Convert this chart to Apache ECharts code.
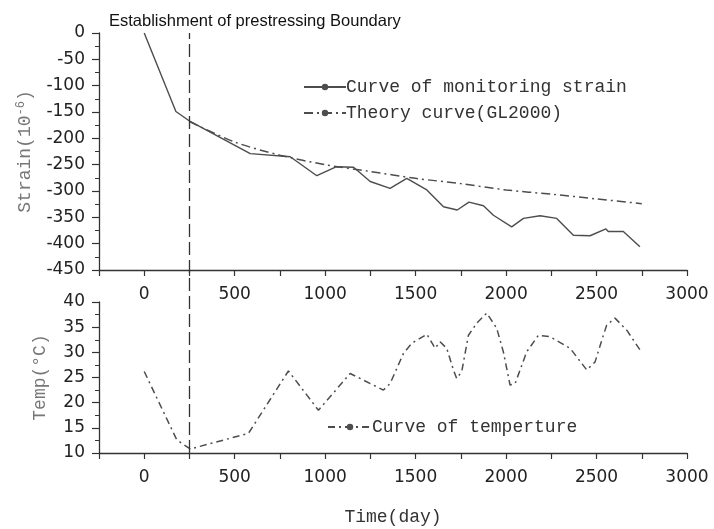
<!DOCTYPE html>
<html>
<head>
<meta charset="utf-8">
<script src="https://cdn.jsdelivr.net/npm/echarts@6/dist/echarts.min.js"></script>
<style>html,body{margin:0;padding:0;background:#fff}#c{width:714px;height:529px}</style>
</head>
<body>
<div id="c"></div>
<script>
// ---- data ----
const strainDays = [0, 175, 254, 586, 807, 954, 1060, 1157, 1249, 1359, 1451, 1562, 1654, 1730, 1795, 1875, 1930, 2031, 2096, 2188, 2280, 2372, 2464, 2552, 2565, 2648, 2740];
const strainVals = [0, -149, -168, -229, -235, -271, -254, -255, -282, -295, -276, -298, -330, -336, -321, -328, -346, -368, -352, -347, -352, -384, -385, -372, -377, -377, -406];
const theoryDays = [250, 500, 750, 1000, 1250, 1500, 1750, 2000, 2250, 2500, 2750];
const theoryVals = [-168, -207, -232, -250, -263, -276, -286, -298, -306, -315, -324];
const tempDays = [0, 180, 254, 576, 797, 963, 1138, 1322, 1359, 1433, 1479, 1562, 1608, 1635, 1672, 1709, 1727, 1755, 1792, 1838, 1893, 1948, 1985, 2022, 2050, 2114, 2179, 2243, 2354, 2446, 2492, 2529, 2556, 2602, 2667, 2740];
const tempVals = [26.2, 12.6, 10.8, 13.9, 26.3, 18.5, 25.8, 22.5, 23.8, 29.8, 31.8, 33.6, 30.8, 32.1, 30.8, 26.5, 24.8, 26.2, 33.4, 35.8, 37.8, 34.8, 30.1, 23.5, 23.8, 30.1, 33.4, 33.1, 30.8, 26.5, 28.1, 32.4, 35.4, 36.8, 34.4, 30.5];
const boundaryDay = 250;
const seriesNames = ['Curve of monitoring strain', 'Theory curve(GL2000)', 'Curve of temperture'];
const titleText = 'Establishment of prestressing Boundary';

const zip = (a, b) => a.map((x, i) => [x, b[i]]);
const tickFont = {fontFamily: 'DejaVu Sans', fontSize: 17, color: '#222'};
const monoFont = 'Liberation Mono';
const lineColor = '#4d4d4d';
const axisLine = {show: true, onZero: false, lineStyle: {color: '#333', width: 1.3}};

function xAxisCfg(gridIndex) {
  return {
    type: 'value', gridIndex, min: -250, max: 3000, interval: 250,
    axisLine, splitLine: {show: false},
    axisTick: {show: true, inside: false, length: 6, lineStyle: {color: '#333', width: 1.2}},
    axisLabel: Object.assign({margin: 16, formatter: v => (v >= 0 && v % 500 === 0) ? String(v) : ''}, tickFont)
  };
}

const chart = echarts.init(document.getElementById('c'), null, {renderer: 'canvas'});
chart.setOption({
  animation: false,
  backgroundColor: '#fff',
  title: {
    text: titleText, left: 104, top: 8,
    textStyle: {fontFamily: 'Liberation Sans', fontSize: 16.5, fontWeight: 'normal', color: '#111'}
  },
  grid: [
    {left: 99, right: 27, top: 33, height: 237},
    {left: 99, right: 27, top: 302, height: 151},
    {left: 99, right: 27, top: 33, height: 420}
  ],
  xAxis: [
    xAxisCfg(0),
    Object.assign(xAxisCfg(1), {
      name: 'Time(day)', nameLocation: 'middle', nameGap: 55,
      nameTextStyle: {fontFamily: monoFont, fontSize: 18, color: '#333'}
    }),
    {type: 'value', gridIndex: 2, min: -250, max: 3000, show: false}
  ],
  yAxis: [
    {
      type: 'value', gridIndex: 0, min: -450, max: 0, interval: 50,
      axisLine, splitLine: {show: false},
      axisTick: {show: true, length: 7, lineStyle: {color: '#333', width: 1.2}},
      minorTick: {show: true, splitNumber: 2, length: 4, lineStyle: {color: '#333'}},
      axisLabel: Object.assign({margin: 14}, tickFont),
      name: '{a|Strain(10}{s|-6}{a|)}', nameLocation: 'middle', nameGap: 64, nameRotate: 90,
      nameTextStyle: {
        rich: {
          a: {fontFamily: monoFont, fontSize: 18, color: '#777'},
          s: {fontFamily: monoFont, fontSize: 12, color: '#777', verticalAlign: 'top', padding: [0, 0, 8, 0]}
        }
      }
    },
    {
      type: 'value', gridIndex: 1, min: 10, max: 40, interval: 5,
      axisLine, splitLine: {show: false},
      axisTick: {show: true, length: 7, lineStyle: {color: '#333', width: 1.2}},
      minorTick: {show: true, splitNumber: 2, length: 4, lineStyle: {color: '#333'}},
      axisLabel: Object.assign({margin: 14}, tickFont),
      name: 'Temp(°C)', nameLocation: 'middle', nameGap: 50, nameRotate: 90,
      nameTextStyle: {fontFamily: monoFont, fontSize: 18, color: '#777'}
    },
    {type: 'value', gridIndex: 2, min: 0, max: 1, show: false}
  ],
  legend: [
    {
      data: [seriesNames[0], seriesNames[1]], orient: 'vertical', left: 298, top: 73,
      itemWidth: 42, itemHeight: 8, itemGap: 8,
      textStyle: {fontFamily: monoFont, fontSize: 18, color: '#333', padding: [0, 0, 0, -5]}
    },
    {
      data: [seriesNames[2]], orient: 'vertical', left: 322, top: 413,
      itemWidth: 44, itemHeight: 8,
      textStyle: {fontFamily: monoFont, fontSize: 18, color: '#333', padding: [0, 0, 0, -5]}
    }
  ],
  series: [
    {
      name: seriesNames[0], type: 'line', xAxisIndex: 0, yAxisIndex: 0,
      data: zip(strainDays, strainVals), symbol: 'circle', symbolSize: 2, showSymbol: false,
      lineStyle: {color: lineColor, width: 1.4}, itemStyle: {color: lineColor}
    },
    {
      name: seriesNames[1], type: 'line', xAxisIndex: 0, yAxisIndex: 0,
      data: zip(theoryDays, theoryVals), symbol: 'circle', symbolSize: 2, showSymbol: false, smooth: 0.3,
      lineStyle: {color: lineColor, width: 1.5, type: [9, 4, 2, 4]}, itemStyle: {color: lineColor}
    },
    {
      name: seriesNames[2], type: 'line', xAxisIndex: 1, yAxisIndex: 1,
      data: zip(tempDays, tempVals), symbol: 'none',
      lineStyle: {color: lineColor, width: 1.5, type: [7, 4, 2, 4]}, itemStyle: {color: lineColor}
    },
    {
      name: 'boundary', type: 'line', xAxisIndex: 2, yAxisIndex: 2,
      data: [], symbol: 'none', silent: true,
      markLine: {
        symbol: 'none', silent: true, animation: false, label: {show: false},
        lineStyle: {color: '#333', width: 1.3, type: [13, 5]},
        data: [{xAxis: boundaryDay}]
      }
    }
  ]
});
</script>
</body>
</html>
